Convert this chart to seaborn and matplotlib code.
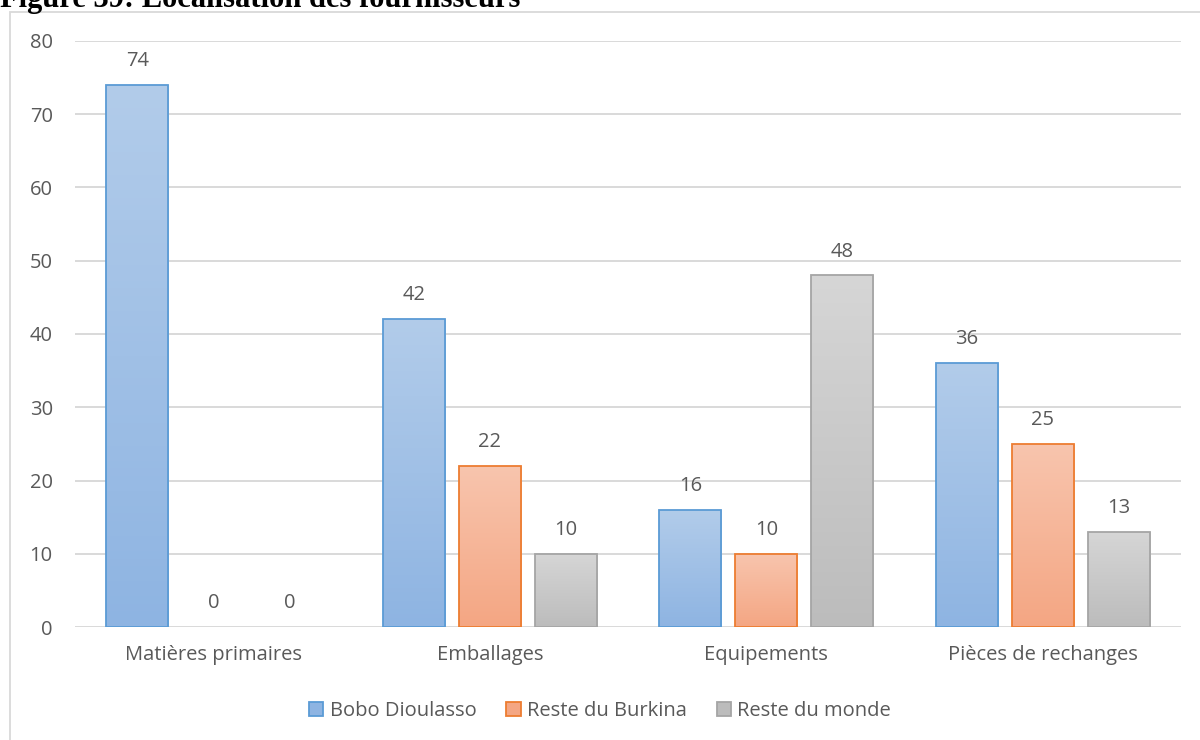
import numpy as np
import pandas as pd
import matplotlib
matplotlib.use('Agg')
import matplotlib.pyplot as plt
import seaborn as sns
from matplotlib.patches import Rectangle
from matplotlib.colors import LinearSegmentedColormap

# data
categories = ['Matières primaires', 'Emballages', 'Equipements', 'Pièces de rechanges']
series = ['Bobo Dioulasso', 'Reste du Burkina', 'Reste du monde']
bobo = [74, 42, 16, 36]
burkina = [0, 22, 10, 25]
monde = [0, 10, 48, 13]

# (top colour, bottom colour, edge colour) for each series
tops = ['#B2CCEA', '#F8C5AE', '#D6D6D6']
bottoms = ['#8EB4E2', '#F4A683', '#BCBCBC']
edges = ['#5B9BD5', '#ED7D31', '#A5A5A5']

df = pd.DataFrame({
    'categorie': categories * 3,
    'serie': np.repeat(series, len(categories)),
    'valeur': bobo + burkina + monde,
})

sns.set_theme(style='white')
plt.rcParams['font.family'] = ['Open Sans', 'DejaVu Sans']
grey_txt = '#595959'
fs = 14.5

fig = plt.figure(figsize=(12, 7.4), dpi=100)
ax = fig.add_axes([0.0625, 0.1527, 0.9217, 0.7919])

sns.barplot(data=df, x='categorie', y='valeur', hue='serie', hue_order=series,
            order=categories, palette=bottoms, width=0.825, gap=0.18,
            linewidth=1.3, ax=ax, legend=False, zorder=3)

ax.set_ylim(0, 80)
ax.set_xlim(-0.5, len(categories) - 0.5)
xlim, ylim = ax.get_xlim(), ax.get_ylim()

# gradient fill per bar, edge colour per series
for i, cont in enumerate(ax.containers):
    cmap = LinearSegmentedColormap.from_list('g%d' % i, [bottoms[i], tops[i]])
    for bar in cont:
        bar.set_facecolor('none')
        x0, y0 = bar.get_x(), bar.get_y()
        w, h = bar.get_width(), bar.get_height()
        if h <= 0:
            bar.set_edgecolor('none')
            continue
        bar.set_edgecolor(edges[i])
        grad = np.linspace(0, 1, 256).reshape(-1, 1)
        im = ax.imshow(grad, cmap=cmap, origin='lower', aspect='auto',
                       extent=(x0, x0 + w, y0, y0 + h), zorder=2.5)
        im.set_clip_path(bar)
    ax.bar_label(cont, labels=[f'{v:.0f}' for v in cont.datavalues], padding=10,
                 fontsize=fs, color=grey_txt)

ax.set_xlim(xlim)
ax.set_ylim(ylim)

ax.set_yticks(range(0, 81, 10))
ax.grid(axis='y', color='#D9D9D9', linewidth=1.4, zorder=0)
ax.set_axisbelow(True)
for s in ax.spines.values():
    s.set_visible(False)
ax.tick_params(axis='both', length=0, labelsize=fs, colors=grey_txt)
ax.tick_params(axis='y', pad=16)
ax.tick_params(axis='x', pad=13)
ax.set_xlabel('')
ax.set_ylabel('')

# legend
handles = [Rectangle((0, 0), 1, 1, facecolor=f, edgecolor=e, linewidth=1.3)
           for f, e in zip(bottoms, edges)]
fig.legend(handles, series, loc='center', bbox_to_anchor=(0.5, 1 - 711 / 740),
           ncol=3, frameon=False, fontsize=fs, labelcolor=grey_txt,
           handlelength=0.7, handleheight=0.7, handletextpad=0.3,
           columnspacing=1.5)

# chart border and title (cut at the top as in the document)
fig.patches.append(Rectangle((10 / 1200, -0.05), 1.1, 1 - 12 / 740 + 0.05,
                             transform=fig.transFigure, fill=False,
                             edgecolor='#D9D9D9', linewidth=1.3))
fig.text(0.0, 1 - 7 / 740, 'Figure 39: Localisation des fournisseurs',
         fontsize=22, fontweight='bold', family='Liberation Serif',
         color='black', ha='left', va='baseline')

fig.savefig('out.png', dpi=100)
